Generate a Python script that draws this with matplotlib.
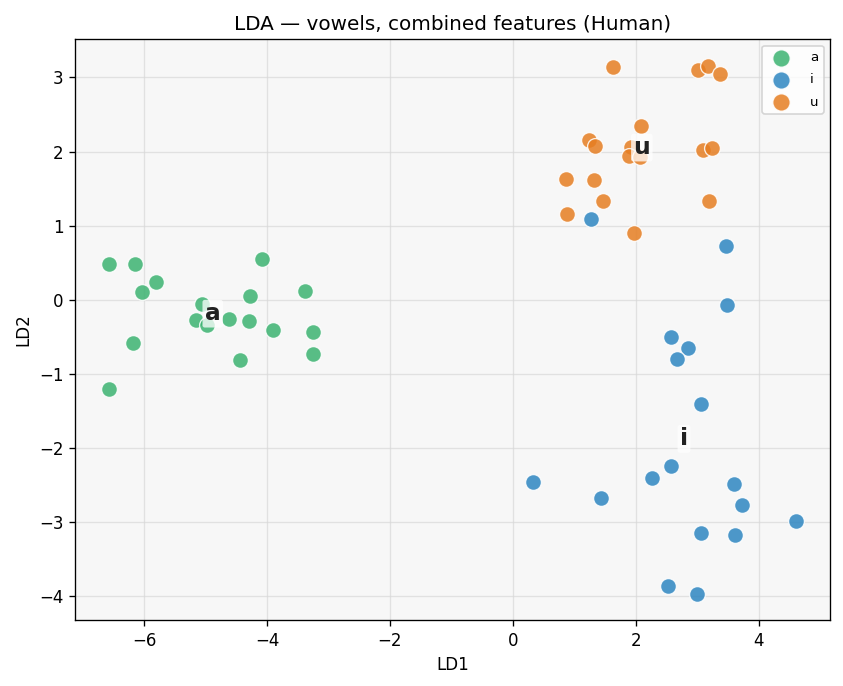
import matplotlib
matplotlib.use("Agg")
import matplotlib.pyplot as plt
import numpy as np

# LDA projections, per vowel class
a_ld1 = [-6.565, -6.142, -5.800, -6.028, -4.081, -3.377, -4.271, -5.057, -5.154,
         -4.970, -4.612, -4.288, -3.897, -3.247, -3.247, -4.434, -6.174, -6.565]
a_ld2 = [0.481, 0.481, 0.238, 0.104, 0.548, 0.117, 0.050, -0.054, -0.269,
         -0.337, -0.260, -0.287, -0.408, -0.435, -0.731, -0.808, -0.583, -1.204]

i_ld1 = [1.268, 3.468, 3.485, 2.574, 2.850, 2.672, 3.062, 2.574, 2.265,
         0.330, 1.436, 3.598, 3.728, 4.607, 3.062, 3.615, 2.525, 2.997]
i_ld2 = [1.087, 0.723, -0.071, -0.502, -0.651, -0.799, -1.405, -2.240, -2.401,
         -2.455, -2.671, -2.482, -2.765, -2.980, -3.142, -3.169, -3.856, -3.964]

u_ld1 = [1.631, 3.008, 3.176, 3.371, 2.086, 1.241, 1.338, 1.914, 1.891,
         2.070, 3.089, 3.241, 0.867, 1.322, 1.468, 0.883, 3.192, 1.972]
u_ld2 = [3.147, 3.107, 3.161, 3.053, 2.343, 2.155, 2.074, 2.057, 1.943,
         1.922, 2.016, 2.043, 1.626, 1.612, 1.329, 1.154, 1.329, 0.898]

classes = ["a", "i", "u"]
colors = {"a": "#3cb371", "i": "#2e86c1", "u": "#e67e22"}
data = {"a": (a_ld1, a_ld2), "i": (i_ld1, i_ld2), "u": (u_ld1, u_ld2)}

fig = plt.figure(figsize=(843 / 120, 686 / 120), dpi=120)
ax = fig.add_axes([0.089, 0.096, 0.896, 0.847])
ax.set_facecolor("#f7f7f7")

for c in classes:
    x, y = data[c]
    ax.scatter(x, y, s=90, color=colors[c], alpha=0.85, edgecolor="white",
               linewidth=0.8, label=c, zorder=3)

# class label at the centroid
for c in classes:
    x, y = data[c]
    ax.text(np.mean(x), np.mean(y), c, fontsize=14, fontweight="bold",
            color="#222222", ha="center", va="center", zorder=5,
            bbox=dict(boxstyle="round,pad=0.1", facecolor="white",
                      edgecolor="none", alpha=0.75))

ax.grid(True, color="#d8d8d8", linewidth=0.8, alpha=0.7)
ax.set_axisbelow(True)
ax.set_xlabel("LD1", fontsize=10)
ax.set_ylabel("LD2", fontsize=10)
ax.set_title("LDA — vowels, combined features (Human)", fontsize=12)
ax.legend(loc="upper right", fontsize=8, markerscale=1.1,
          handletextpad=1.2, labelspacing=0.7)

fig.savefig("out.png", dpi=120)
